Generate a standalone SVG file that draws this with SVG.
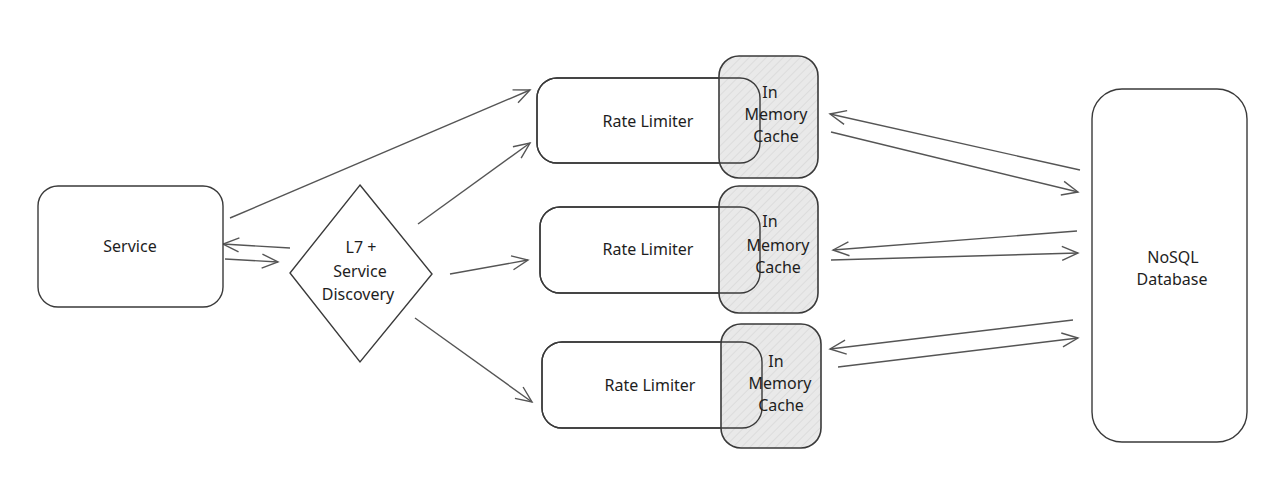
<svg xmlns="http://www.w3.org/2000/svg" width="1280" height="499" viewBox="0 0 1280 499">
<style>
.box{fill:#fff;stroke:#3a3a3a;stroke-width:1.4}
.cache{fill:url(#hatch);stroke:#3a3a3a;stroke-width:1.6}
.rl{fill:none;stroke:#3a3a3a;stroke-width:1.4}
.lbl{font-family:"Noto Sans","Liberation Sans",sans-serif;font-size:16px;fill:#1e1e1e;text-anchor:middle}
.con{stroke:#555;stroke-width:1.4;fill:none;marker-end:url(#ah)}
</style>
<defs>
<pattern id="hatch" patternUnits="userSpaceOnUse" width="6" height="6" patternTransform="rotate(45)">
<rect width="6" height="6" fill="#e9e9e9"/>
<line x1="0" y1="0" x2="0" y2="6" stroke="#cfcfcf" stroke-width="1"/>
</pattern>
<marker id="ah" viewBox="0 0 20 20" refX="18" refY="10" markerWidth="20" markerHeight="20" markerUnits="userSpaceOnUse" orient="auto">
<path d="M2,3 L18,10 L2,17" fill="none" stroke="#555" stroke-width="1.4"/>
</marker>
</defs>
<rect width="1280" height="499" fill="#fff"/>
<g id="connectors">
<line class="con" x1="230" y1="218" x2="530" y2="90"/>
<line class="con" x1="418" y1="224" x2="530" y2="143"/>
<line class="con" x1="450" y1="274" x2="528" y2="260"/>
<line class="con" x1="415" y1="318" x2="532" y2="402"/>
<line class="con" x1="290" y1="248" x2="223" y2="244"/>
<line class="con" x1="225" y1="259" x2="278" y2="262"/>
<line class="con" x1="1080" y1="170" x2="830" y2="114"/>
<line class="con" x1="831" y1="132" x2="1078" y2="192"/>
<line class="con" x1="1077" y1="231" x2="833" y2="250"/>
<line class="con" x1="831" y1="260" x2="1078" y2="253"/>
<line class="con" x1="1073" y1="320" x2="830" y2="349"/>
<line class="con" x1="838" y1="367" x2="1078" y2="338"/>
</g>
<g id="service">
<rect class="box" x="38" y="186" width="185" height="121" rx="20"/>
<text class="lbl" x="130" y="252">Service</text>
</g>
<g id="l7">
<polygon class="box" points="360,185 432,274 360,362 290,273"/>
<text class="lbl" x="361" y="253">L7 +</text>
<text class="lbl" x="360" y="277">Service</text>
<text class="lbl" x="358" y="300">Discovery</text>
</g>
<g id="rl1">
<rect class="box" x="537" y="78" width="223" height="85" rx="20"/>
<rect class="cache" x="719" y="56" width="99" height="122" rx="20"/>
<rect class="rl" x="537" y="78" width="223" height="85" rx="20"/>
<text class="lbl" x="648" y="127">Rate Limiter</text>
<text class="lbl" x="770" y="98">In</text>
<text class="lbl" x="776" y="120">Memory</text>
<text class="lbl" x="776" y="142">Cache</text>
</g>
<g id="rl2">
<rect class="box" x="540" y="207" width="220" height="86" rx="20"/>
<rect class="cache" x="719" y="186" width="99" height="127" rx="20"/>
<rect class="rl" x="540" y="207" width="220" height="86" rx="20"/>
<text class="lbl" x="648" y="255">Rate Limiter</text>
<text class="lbl" x="770" y="227">In</text>
<text class="lbl" x="778" y="251">Memory</text>
<text class="lbl" x="778" y="273">Cache</text>
</g>
<g id="rl3">
<rect class="box" x="542" y="342" width="220" height="86" rx="20"/>
<rect class="cache" x="721" y="324" width="100" height="124" rx="20"/>
<rect class="rl" x="542" y="342" width="220" height="86" rx="20"/>
<text class="lbl" x="650" y="391">Rate Limiter</text>
<text class="lbl" x="776" y="367">In</text>
<text class="lbl" x="780" y="389">Memory</text>
<text class="lbl" x="781" y="411">Cache</text>
</g>
<g id="nosql">
<rect class="box" x="1092" y="89" width="155" height="353" rx="30"/>
<text class="lbl" x="1173" y="263">NoSQL</text>
<text class="lbl" x="1172" y="285">Database</text>
</g>
</svg>
